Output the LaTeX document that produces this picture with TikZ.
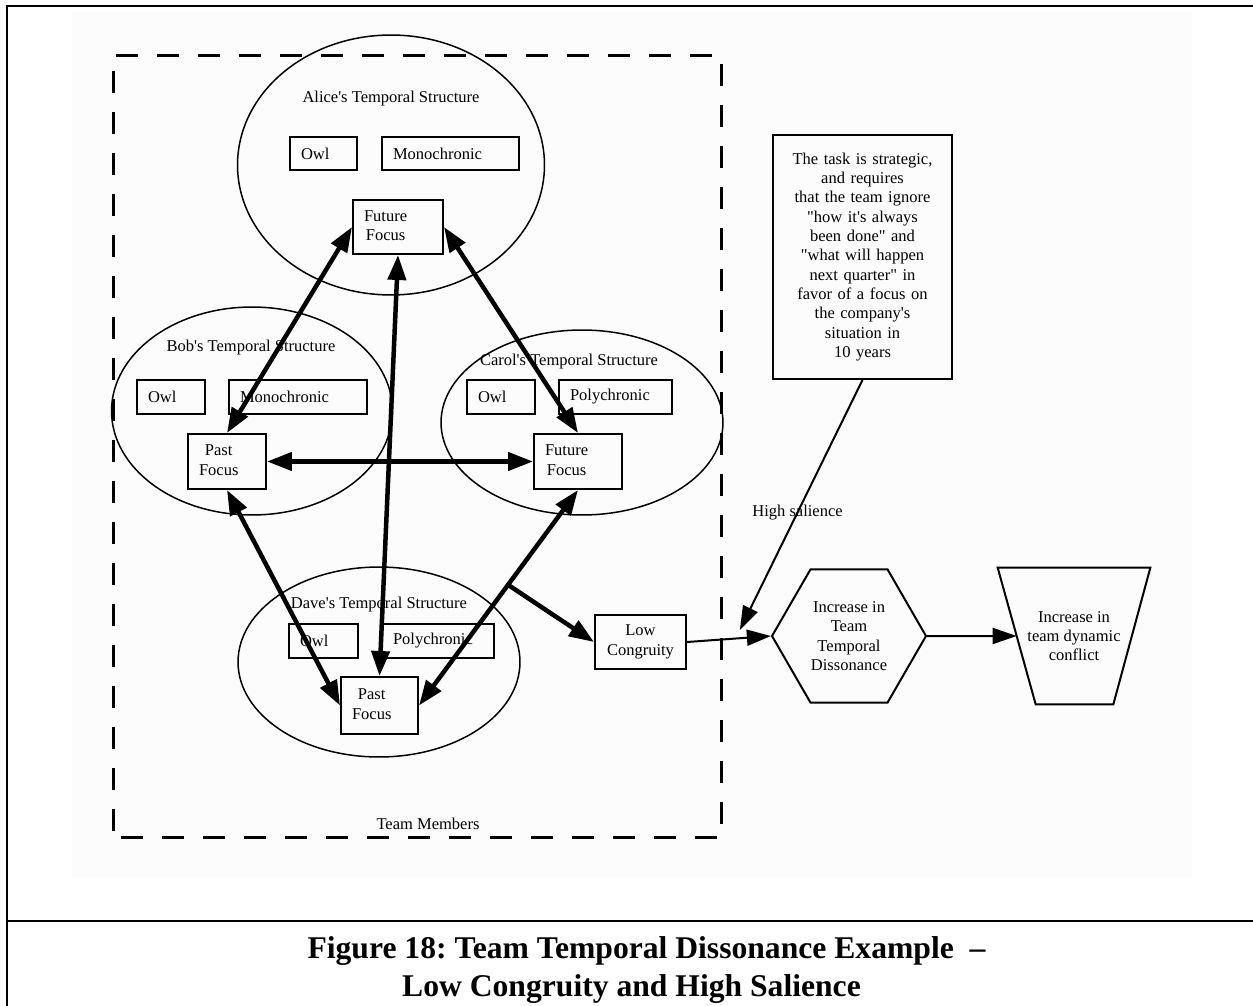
\documentclass[tikz,border=0pt]{standalone}
\usepackage{fontspec}
\setmainfont{Liberation Serif}
\usetikzlibrary{shapes.geometric,arrows.meta,calc}

\newcommand\ap{\textquotesingle}
\newcommand\dq{\textquotedbl}
\newcommand\twoline[2]{\begin{tabular}{@{}c@{}}#1\\#2\end{tabular}}

\begin{document}
\frenchspacing
\begin{tikzpicture}[x=0.02cm,y=-0.02cm,
  every node/.style={font=\fontsize{9.4}{11}\selectfont},
  member/.style={ellipse,draw,line width=0.3mm,inner sep=0pt},
  box/.style={rectangle,draw,line width=0.4mm,inner xsep=0.22cm,inner ysep=0pt,align=left},
  cbox/.style={box,align=center},
  link/.style={line width=0.9mm,
    {Triangle[length=5mm,width=3.6mm]}-{Triangle[length=5mm,width=3.6mm]}},
  push/.style={line width=0.9mm,-{Triangle[length=5mm,width=3.6mm]}},
  flow/.style={line width=0.4mm,-{Triangle[length=4.8mm,width=3.2mm]}},
  figcap/.style={font=\fontsize{18}{21.5}\selectfont\bfseries}
]
\useasboundingbox (0,0) rectangle (1253,1006);

% page frame and faint drawing area
\fill[black!1] (72,12) rectangle (1192,878);
\draw[line width=0.3mm] (1253,6) -- (7,6) -- (7,1006);
\draw[line width=0.3mm] (7,921) -- (1253,921);

% team cluster
\node[draw,line width=0.6mm,dash pattern=on 4.4mm off 3.8mm,dash phase=6.6mm,
      minimum width=12.18cm,minimum height=15.66cm,inner sep=0pt] (team) at (417.5,446.5) {};
\node (teamlbl) at (428,824) {Team Members};

% Alice
\node[member,minimum width=6.14cm,minimum height=5.2cm] (alice) at (391,165) {};
\node (alicelbl) at (391,99) {Alice\ap s Temporal Structure};
\node[box,text width=0.90cm,minimum height=0.67cm] (aOwl) at (323.5,153.5) {Owl};
\node[box,text width=2.30cm,minimum height=0.67cm] (aMono) at (450.5,153.5) {Monochronic};
\node[box,text width=1.36cm,minimum height=1.08cm] (aFF) at (398,227) {\twoline{Future}{Focus}};

% Bob
\node[member,minimum width=5.62cm,minimum height=4.16cm] (bob) at (252,411) {};
\node (boblbl) at (251,348) {Bob\ap s Temporal Structure};
\node[box,text width=0.92cm,minimum height=0.68cm] (bOwl) at (171,397) {Owl};
\node[box,text width=2.32cm,minimum height=0.68cm] (bMono) at (298,397) {Monochronic};
\node[box,text width=1.12cm,minimum height=1.10cm] (bPF) at (227,461.5) {\twoline{Past}{Focus}};

% Carol
\node[member,minimum width=5.64cm,minimum height=3.7cm] (carol) at (582,422.5) {};
\node (carollbl) at (569,362) {Carol\ap s Temporal Structure};
\node[box,text width=0.92cm,minimum height=0.68cm] (cOwl) at (501,397) {Owl};
\node[box,text width=1.82cm,minimum height=0.68cm] (cPoly) at (615.5,397) {Polychronic};
\node[box,text width=1.32cm,minimum height=1.10cm] (cFF) at (578,461.5) {\twoline{Future}{Focus}};

% Dave
\node[member,minimum width=5.64cm,minimum height=3.8cm] (dave) at (379,662) {};
\node (davelbl) at (379,605) {Dave\ap s Temporal Structure};
\node[box,text width=0.94cm,minimum height=0.68cm] (dOwl) at (323.5,641) {Owl};
\node[box,text width=1.80cm,minimum height=0.68cm] (dPoly) at (438,641) {Polychronic};
\node[box,text width=1.10cm,minimum height=1.14cm] (dPF) at (379.5,705.5) {\twoline{Past}{Focus}};

% outcome chain
\node[cbox,text width=1.38cm,minimum height=1.08cm] (low) at (640.5,642) {Low\\Congruity};
\node[cbox,text width=3.14cm,minimum height=4.88cm] (task) at (862.5,257)
  {The task is strategic,\\and requires\\that the team ignore\\\dq how it\ap s always\\been done\dq{} and\\\dq what will happen\\next quarter\dq{} in\\favor of a focus on\\the company\ap s\\situation in\\10 years};
\node[regular polygon,regular polygon sides=6,draw,line width=0.4mm,
      minimum size=3.08cm,inner sep=0pt,align=center] (hex) at (849,636)
  {Increase in\\Team\\Temporal\\Dissonance};
% inverted trapezium: a frame node whose outline is drawn from its corners
\node[minimum width=3.04cm,minimum height=2.72cm,inner sep=0pt,align=center] (trap) at (1074,636)
  {Increase in\\team dynamic\\conflict};
\draw[line width=0.4mm,line join=miter]
  (trap.north west) -- (trap.north east) -- ($(trap.south east)+(-37,0)$)
  -- ($(trap.south west)+(38,0)$) -- cycle;
\coordinate (trapIn) at ($(trap.north west)!0.5!($(trap.south west)+(38,0)$)$);

% links between the members' focus boxes
\draw[link] (aFF.west) -- (bPF.north);
\draw[link] (aFF.south) -- (dPF.north);
\draw[link] (aFF.east) -- (cFF.north);
\draw[link] (bPF.east) -- (cFF.west);
\draw[link] (bPF.south) -- (dPF.west);
\draw[link] (cFF.south) -- (dPF.east);

% from the team to the outcome
\coordinate (split) at ($(cFF.south)!0.44!(dPF.east)$);
\draw[push] (split) -- (low.west);
\draw[flow] (low.east) -- (hex.west);
\coordinate (salTip) at ($(hex.west)+(-31,-6)$);
\draw[flow] (task.south) -- node[pos=0.53] (sal) {High salience} (salTip);
\draw[flow] (hex.east) -- (trapIn);

% caption
\node[figcap] (cap1) at (646.5,951) {Figure 18: Team Temporal Dissonance Example~ –};
\node[figcap] (cap2) at (631.5,989) {Low Congruity and High Salience};
\end{tikzpicture}
\end{document}
